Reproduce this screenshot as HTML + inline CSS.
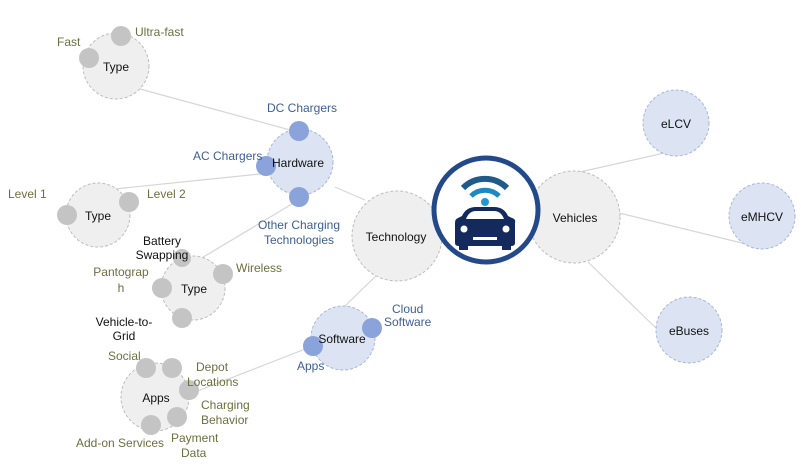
<!DOCTYPE html>
<html><head><style>body{margin:0;background:#fff}</style></head><body>
<svg width="801" height="467" viewBox="0 0 801 467" xmlns="http://www.w3.org/2000/svg" font-family="Liberation Sans, sans-serif" font-size="12">
<g stroke="#d6d6d6" stroke-width="1.2">
<line x1="140" y1="89" x2="290" y2="130"/>
<line x1="260" y1="174" x2="95" y2="191"/>
<line x1="292" y1="204" x2="195" y2="262"/>
<line x1="335" y1="187" x2="365" y2="200"/>
<line x1="384" y1="268" x2="345" y2="306"/>
<line x1="313" y1="346" x2="195" y2="392"/>
<line x1="580" y1="172" x2="700" y2="145"/>
<line x1="619" y1="213" x2="750" y2="245"/>
<line x1="588" y1="262" x2="658" y2="330"/>
</g>
<g fill="#efefef" stroke="#bdbdbd" stroke-dasharray="3,2">
<circle cx="116" cy="66" r="33"/>
<circle cx="98" cy="215" r="32"/>
<circle cx="193" cy="288" r="32"/>
<circle cx="155" cy="397" r="34"/>
<circle cx="397" cy="236" r="45"/>
<circle cx="574" cy="217" r="46"/>
</g>
<g fill="#dce4f3" stroke="#a8b6d6" stroke-dasharray="3,2">
<circle cx="300" cy="162" r="33"/>
<circle cx="343" cy="338" r="32"/>
<circle cx="676" cy="123" r="33"/>
<circle cx="762" cy="216" r="33"/>
<circle cx="689" cy="330" r="33"/>
</g>
<g fill="#c4c4c4">
<circle cx="121" cy="36" r="10"/><circle cx="89" cy="58" r="10"/>
<circle cx="129" cy="202" r="10"/><circle cx="67" cy="215" r="10"/>
<circle cx="182" cy="258" r="9"/><circle cx="223" cy="274" r="10"/><circle cx="162" cy="288" r="10"/><circle cx="182" cy="318" r="10"/>
<circle cx="146" cy="368" r="10"/><circle cx="172" cy="368" r="10"/><circle cx="189" cy="390" r="10"/><circle cx="177" cy="417" r="10"/><circle cx="151" cy="425" r="10"/>
</g>
<g fill="#8aa3da">
<circle cx="299" cy="131" r="10"/><circle cx="266" cy="166" r="10"/><circle cx="299" cy="197" r="10"/>
<circle cx="372" cy="328" r="10"/><circle cx="313" cy="346" r="10"/>
</g>
<circle cx="486" cy="210" r="52" fill="#fff" stroke="#23498a" stroke-width="5"/>
<g fill="none">
<path d="M463 188 A31 31 0 0 1 507 188" stroke="#1f5a8a" stroke-width="6"/>
<path d="M471 196 A20 20 0 0 1 499 196" stroke="#1e88c0" stroke-width="5"/>
</g>
<circle cx="485" cy="202" r="4" fill="#1e9ad0"/>
<path d="M462 216 Q466 207 476 207 L494 207 Q504 207 508 216 L512 218 Q516 219 515 223 L515 243 Q515 246 511 246 L459 246 Q455 246 455 243 L455 223 Q455 219 458 218 Z" fill="#152a5c"/>
<path d="M466 219 Q469 211 476 211 L494 211 Q501 211 504 219 Z" fill="#fff"/>
<circle cx="464" cy="229" r="3.5" fill="#fff"/><circle cx="506" cy="229" r="3.5" fill="#fff"/>
<rect x="473" y="237" width="24" height="3" fill="#fff"/>
<rect x="459" y="246" width="9" height="4" fill="#152a5c"/><rect x="502" y="246" width="9" height="4" fill="#152a5c"/>
<g fill="#111" text-anchor="middle">
<text x="116" y="71">Type</text><text x="98" y="220">Type</text><text x="194" y="293">Type</text>
<text x="156" y="402">Apps</text><text x="396" y="241">Technology</text><text x="575" y="222">Vehicles</text>
<text x="298" y="167">Hardware</text><text x="342" y="343">Software</text>
<text x="676" y="128">eLCV</text><text x="762" y="221">eMHCV</text><text x="689" y="335">eBuses</text>
<text x="162" y="245">Battery</text><text x="162" y="259">Swapping</text>
<text x="124" y="326">Vehicle-to-</text><text x="124" y="340">Grid</text>
</g>
<g fill="#6b7040">
<text x="57" y="46">Fast</text><text x="135" y="36">Ultra-fast</text>
<text x="8" y="198">Level 1</text><text x="147" y="198">Level 2</text>
<text x="236" y="272">Wireless</text>
<text x="121" y="276" text-anchor="middle">Pantograp</text><text x="121" y="292" text-anchor="middle">h</text>
<text x="108" y="360">Social</text>
<text x="196" y="371">Depot</text><text x="187" y="386">Locations</text>
<text x="201" y="409">Charging</text><text x="201" y="424">Behavior</text>
<text x="76" y="447">Add-on Services</text>
<text x="171" y="442">Payment</text><text x="181" y="457">Data</text>
</g>
<g fill="#3d5f95">
<text x="267" y="112">DC Chargers</text>
<text x="193" y="160">AC Chargers</text>
<text x="299" y="229" text-anchor="middle">Other Charging</text><text x="299" y="244" text-anchor="middle">Technologies</text>
<text x="392" y="313">Cloud</text><text x="384" y="326">Software</text>
<text x="297" y="370">Apps</text>
</g>
</svg>
</body></html>
